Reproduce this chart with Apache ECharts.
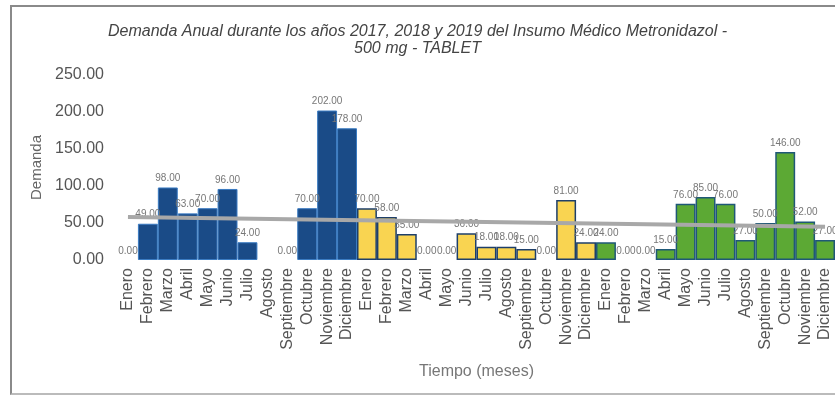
<!DOCTYPE html>
<html>
<head>
<meta charset="utf-8">
<script src="https://cdn.jsdelivr.net/npm/echarts@6/dist/echarts.min.js"></script>
<style>
  html, body { margin: 0; padding: 0; background: #fff; overflow: hidden; }
  #frame { position: absolute; left: 10px; top: 5px; width: 840px; height: 386px;
           border-left: 2px solid #8a8a8a; border-top: 2px solid #8a8a8a; border-bottom: 2px solid #bbb; }
  #chart { position: absolute; left: 0; top: 0; width: 835px; height: 396px; }
</style>
</head>
<body>
<div id="frame"></div>
<div id="chart"></div>
<script>
// ---- data ----
const months = ['Enero','Febrero','Marzo','Abril','Mayo','Junio','Julio','Agosto','Septiembre','Octubre','Noviembre','Diciembre'];
const demand2017 = [0, 49, 98, 63, 70, 96, 24, null, 0, 70, 202, 178];
const demand2018 = [70, 58, 35, 0, 0, 36, 18, 18, 15, 0, 81, 24];
const demand2019 = [24, 0, 0, 15, 76, 85, 76, 27, 50, 146, 52, 27];
const trendStartEnd = [58, 45];
const yTicks = [0, 50, 100, 150, 200, 250];
const titleLines = ['Demanda Anual durante los años 2017, 2018 y 2019 del Insumo Médico Metronidazol -', '500 mg - TABLET'];

// ---- build library inputs ----
const yearStyles = [
  { color: '#1a4b87', borderColor: '#3a7bc2', borderWidth: 1 },
  { color: '#f9d451', borderColor: '#1e3f6a', borderWidth: 1.5 },
  { color: '#5ca934', borderColor: '#1f5877', borderWidth: 1.5 }
];
const categories = months.concat(months, months);
const barData = [];
[demand2017, demand2018, demand2019].forEach(function (arr, yi) {
  arr.forEach(function (v) {
    const st = Object.assign({}, yearStyles[yi]);
    if (v === 0) st.borderWidth = 0;
    barData.push({ value: v === null ? '-' : v, itemStyle: st });
  });
});
const trendData = categories.map(function () { return '-'; });
trendData[0] = trendStartEnd[0];
trendData[categories.length - 1] = trendStartEnd[1];

const chart = echarts.init(document.getElementById('chart'), null, { renderer: 'canvas' });
chart.setOption({
  animation: false,
  backgroundColor: 'transparent',
  textStyle: { fontFamily: 'Liberation Sans, Arial, sans-serif' },
  title: {
    text: titleLines.join('\n'),
    left: 'center',
    top: 18,
    textStyle: { fontSize: 16, fontStyle: 'italic', fontWeight: 'normal', color: '#444', lineHeight: 17 }
  },
  grid: { left: 118, top: 75, width: 721, height: 185 },
  xAxis: {
    type: 'category',
    data: categories,
    name: 'Tiempo (meses)',
    nameLocation: 'middle',
    nameGap: 104,
    nameTextStyle: { fontSize: 16, color: '#777' },
    axisLine: { show: false },
    axisTick: { show: false },
    axisLabel: { rotate: 90, interval: 0, fontSize: 16, color: '#555', margin: 8 }
  },
  yAxis: {
    type: 'value',
    min: yTicks[0],
    max: yTicks[yTicks.length - 1],
    interval: yTicks[1] - yTicks[0],
    name: 'Demanda',
    nameLocation: 'middle',
    nameGap: 63,
    nameTextStyle: { fontSize: 15, color: '#666' },
    axisLine: { show: false },
    axisTick: { show: false },
    splitLine: { show: false },
    axisLabel: { fontSize: 16, color: '#555', margin: 14, formatter: function (v) { return v.toFixed(2); } }
  },
  series: [
    {
      type: 'bar',
      data: barData,
      barCategoryGap: '0%',
      label: {
        show: true,
        position: 'top',
        distance: 4,
        fontSize: 10,
        color: '#777',
        formatter: function (p) { return Number(p.value).toFixed(2); }
      }
    },
    {
      type: 'line',
      data: trendData,
      connectNulls: true,
      symbol: 'none',
      z: 5,
      lineStyle: { color: '#a8a8a8', width: 4 }
    }
  ]
});
</script>
</body>
</html>
